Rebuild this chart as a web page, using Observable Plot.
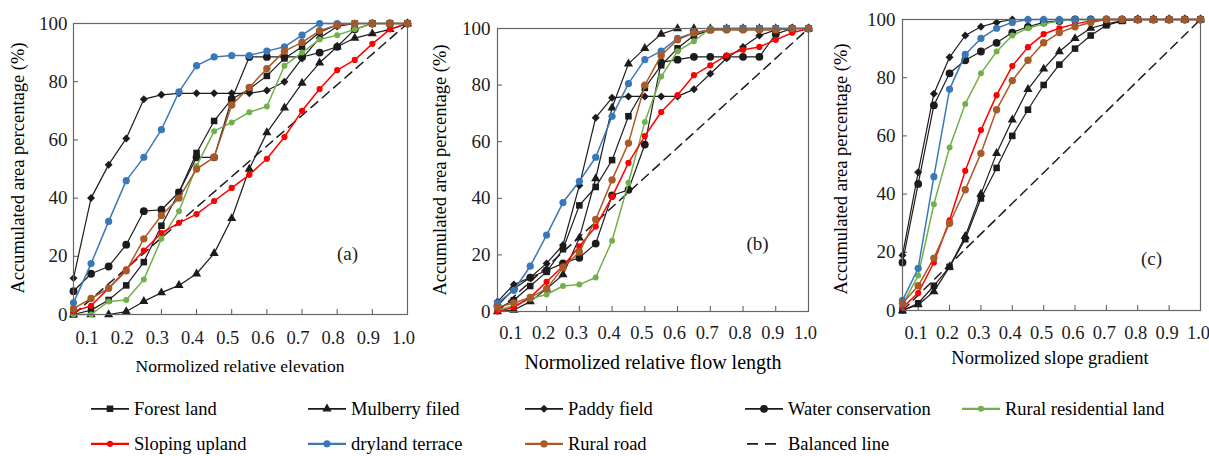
<!DOCTYPE html>
<html>
<head>
<meta charset="utf-8">
<script src="https://cdn.jsdelivr.net/npm/d3@7"></script>
<script src="https://cdn.jsdelivr.net/npm/@observablehq/plot@0.6"></script>
<style>
html,body{margin:0;padding:0;background:#fff;}
#wrap{position:relative;width:1209px;height:456px;overflow:hidden;font-family:"Liberation Serif","Times New Roman",serif;color:#000;}
.panel{position:absolute;top:0;}
.panel svg{overflow:visible;font-family:"Liberation Serif","Times New Roman",serif !important;}
.panel svg text{font-family:"Liberation Serif","Times New Roman",serif;}
.xt{position:absolute;white-space:nowrap;transform:translate(-50%,-50%);line-height:1;}
.yt{position:absolute;white-space:nowrap;transform:translate(-50%,-50%) rotate(-90deg);line-height:1;}
.leg{position:absolute;display:flex;align-items:center;white-space:nowrap;font-size:18.5px;line-height:1.1;transform:translateY(-50%);}
.leg svg{margin-right:3px;}
</style>
</head>
<body>
<div id="wrap"></div>
<script>
// ---------- data ----------
const xValues = [0.05,0.10,0.15,0.20,0.25,0.30,0.35,0.40,0.45,0.50,0.55,0.60,0.65,0.70,0.75,0.80,0.85,0.90,0.95,1.00];
const xTicks = [0.1,0.2,0.3,0.4,0.5,0.6,0.7,0.8,0.9,1.0];
const yTicks = [0,20,40,60,80,100];
const seriesNames = ["Forest land","Mulberry filed","Paddy field","Water conservation","Rural residential land","Sloping upland","dryland terrace","Rural road"];
const balancedName = "Balanced line";
const balancedX = [0.05, 1.0];
const balancedY = [0, 100];
const panelTags = ["(a)","(b)","(c)"];
const xTitles = ["Normolized relative elevation","Normolized relative flow length","Normolized slope gradient"];
const yTitle = "Accumulated area percentage (%)";

// (a) relative elevation
const elevForest      = [0,1.5,5,10,18,30.5,42,55.5,66.5,74,77.5,82,88,92,97,99.5,100,100,100,100];
const elevMulberry    = [0,0,0,1,4.5,7.5,10,14,21,33,50,62.5,71,79.5,86.5,92,95,96.5,98,100];
const elevPaddy       = [12.5,40,51.5,60.5,74,75.5,76,76,76,76,76,77,80,88,95,99,100,100,100,100];
const elevWater       = [8,14,16.5,24,35.5,36,42,54,54,74,88.5,88.5,88.5,88.5,90,92,98,100,100,100];
const elevResidential = [0,0,4.5,5,12,26,35.5,51,63,66,69.5,71.5,85.5,90,94.5,96,98,100,100,100];
const elevSloping     = [1,3,9,15.5,22,28,31.5,34.5,39,43.5,48,53.5,61,70,77.5,84,87.5,93,98,100];
const elevDryland     = [4,17.5,32,46,54,63.5,76.5,85.5,88.5,89,89,90.5,92,96,100,100,100,100,100,100];
const elevRoad        = [2,5.5,9,15,26,34,40,50,54,72,78,84.5,90.5,93.5,97.5,99.5,100,100,100,100];

// (b) relative flow length
const flowForest      = [1,4,9,14,22,37.5,44,53.5,69,79,87,93,97.5,99.5,100,100,100,100,100,100];
const flowMulberry    = [0,0.5,3.5,8,13,26,47,72,87.5,93,98,100,100,100,100,100,100,100,100,100];
const flowPaddy       = [3.5,9.5,12,17,23.5,44.5,68.5,75.5,76,76,76,76,78.5,84,89.5,93.5,97.5,99.5,100,100];
const flowWater       = [2,8,12,14.5,17,19,24,41,43,59,88,89,90,90,90,90,90,98,100,100];
const flowResidential = [0.5,2,4.5,6,9,9.5,12,25,45.5,67,83,92,95.5,100,100,100,100,100,100,100];
const flowSloping     = [0,1.5,5,10.5,16,23,30,40.5,52.5,62,70.5,76.5,83.5,87,90.5,92.5,93.5,96,98.5,100];
const flowDryland     = [3,7.5,16,27,38.5,46,54.5,69,80.5,89,92,96.5,98.5,99.5,100,100,100,100,100,100];
const flowRoad        = [1.5,3,5,8,15.5,21,32.5,46.5,59.5,80,90.5,96,98.5,99.5,99.5,99.5,99.5,99.5,100,100];

// (c) slope gradient
const slopeForest      = [0,2.5,8.5,15,24.5,38.5,49,60,69,77.5,84.5,90,94.5,98,99.5,100,100,100,100,100];
const slopeMulberry    = [0,2,6.5,15,25.5,40,54,65.5,76,83,89,93.5,97,98.5,99.5,100,100,100,100,100];
const slopePaddy       = [19,47.5,74.5,87,94.5,97.5,99,100,100,100,100,100,100,100,100,100,100,100,100,100];
const slopeWater       = [16.5,43.5,70.5,81.5,86,89,92,95.5,97.5,99,99.5,100,100,100,100,100,100,100,100,100];
const slopeResidential = [2,12,36.5,56,71,81.5,89,94.5,97,98.5,99.5,100,100,100,100,100,100,100,100,100];
const slopeSloping     = [1,6,16.5,31,48,62,74,84,90.5,95,97,98.5,99.5,100,100,100,100,100,100,100];
const slopeDryland     = [3.5,14.5,46,76,88,93.5,97,99,100,100,100,100,100,100,100,100,100,100,100,100];
const slopeRoad        = [2.5,8.5,18,30,41.5,54,69,79,86,92,95.5,97.5,99,100,100,100,100,100,100,100];

// ---------- styles ----------
const seriesColors  = ["#1c1c1c","#1c1c1c","#1c1c1c","#1c1c1c","#72b04c","#ff0000","#3b78b8","#a85a28"];
const seriesSymbols = ["square","triangle","diamond2","circle","circle","circle","circle","circle"];
const seriesRadius  = [3.7,3.4,3.6,3.9,3.0,3.1,3.6,3.7];
const seriesWidth   = [1.2,1.2,1.2,1.2,1.5,1.5,1.5,1.5];

const panels = [
  {series:[elevForest,elevMulberry,elevPaddy,elevWater,elevResidential,elevSloping,elevDryland,elevRoad],
   left:0, width:412, height:380, mL:73, mR:5, mT:23, mB:66, xPad:16, yPad:6, tickDx:-4,
   xTitle:{x:240,y:367,fs:17.5}, yTitle:{x:18,y:168,fs:18.5}, tag:{dx:-60,dy:-61}},
  {series:[flowForest,flowMulberry,flowPaddy,flowWater,flowResidential,flowSloping,flowDryland,flowRoad],
   left:415, width:396, height:380, mL:82, mR:3, mT:28, mB:69, xPad:14, yPad:7, tickDx:-3,
   xTitle:{x:653,y:362,fs:20}, yTitle:{x:440,y:170,fs:18.5}, tag:{dx:-51,dy:-68}},
  {series:[slopeForest,slopeMulberry,slopePaddy,slopeWater,slopeResidential,slopeSloping,slopeDryland,slopeRoad],
   left:815, width:394, height:380, mL:87, mR:9, mT:19, mB:70, xPad:15, yPad:7, tickDx:-2,
   xTitle:{x:1050,y:358,fs:18.5}, yTitle:{x:841,y:169,fs:18.5}, tag:{dx:-49,dy:-52}}
];

const wrap = document.getElementById("wrap");
const FONT = '"Liberation Serif", "Times New Roman", serif';

panels.forEach((p, k) => {
  const frameW = p.width - p.mL - p.mR;
  const frameH = p.height - p.mT - p.mB;
  const marks = [
    Plot.gridY(yTicks, {stroke:"#555", strokeOpacity:1, insetRight: frameW - 5}),
    Plot.gridX(xTicks, {stroke:"#555", strokeOpacity:1, insetTop: frameH - 5}),
    Plot.axisY(yTicks, {tickSize:0, tickPadding:p.yPad, label:null, fontSize:19}),
    Plot.axisX(xTicks, {tickSize:0, tickPadding:p.xPad, label:null, tickFormat:d3.format(".1f"), dx:p.tickDx, fontSize:18.5}),
    Plot.line(balancedX.map((x,j)=>({x, y:balancedY[j]})), {x:"x", y:"y", stroke:"#1c1c1c", strokeWidth:1.5, strokeDasharray:"9,6"})
  ];
  seriesNames.forEach((name, i) => {
    const pts = xValues.map((x, j) => ({x, y: p.series[i][j], name}));
    marks.push(Plot.line(pts, {x:"x", y:"y", stroke:seriesColors[i], strokeWidth:seriesWidth[i]}));
    marks.push(Plot.dot(pts, {x:"x", y:"y", symbol:seriesSymbols[i], fill:seriesColors[i], r:seriesRadius[i], stroke:"none"}));
  });
  marks.push(Plot.text([panelTags[k]], {text:d=>d, frameAnchor:"bottom-right", dx:p.tag.dx, dy:p.tag.dy, fontSize:19, textAnchor:"middle", lineAnchor:"middle", fill:"#1c1c1c"}));
  marks.push(Plot.frame({stroke:"#666", strokeWidth:1.2}));

  const svg = Plot.plot({
    width:p.width, height:p.height,
    marginLeft:p.mL, marginRight:p.mR, marginTop:p.mT, marginBottom:p.mB,
    x:{domain:[0.05,1.0]}, y:{domain:[0,100]},
    style:`font-family: ${FONT}; font-size: 18px; color: #1c1c1c; background: transparent; overflow: visible;`,
    marks
  });
  const holder = document.createElement("div");
  holder.className = "panel";
  holder.style.left = p.left + "px";
  holder.appendChild(svg);
  wrap.appendChild(holder);

  const xt = document.createElement("div");
  xt.className = "xt"; xt.textContent = xTitles[k];
  xt.style.left = p.xTitle.x + "px"; xt.style.top = p.xTitle.y + "px"; xt.style.fontSize = p.xTitle.fs + "px";
  wrap.appendChild(xt);
  const yt = document.createElement("div");
  yt.className = "yt"; yt.textContent = yTitle;
  yt.style.left = p.yTitle.x + "px"; yt.style.top = p.yTitle.y + "px"; yt.style.fontSize = p.yTitle.fs + "px";
  wrap.appendChild(yt);
});

// ---------- legend ----------
const legendCols = [91, 308, 525, 745, 962];
const legendRows = [409, 444];
const legendOrder = [0,1,2,3,4,5,6,7,-1];
const symbolTypes = {square:d3.symbolSquare, triangle:d3.symbolTriangle, diamond2:d3.symbolDiamond2, circle:d3.symbolCircle};
legendOrder.forEach((si, n) => {
  const row = n < 5 ? 0 : 1;
  const col = n < 5 ? n : n - 5;
  const item = document.createElement("div");
  item.className = "leg";
  item.style.left = legendCols[col] + "px";
  item.style.top = legendRows[row] + "px";
  let sw;
  if (si < 0) {
    sw = `<svg width="40" height="12"><line x1="2" y1="6" x2="32" y2="6" stroke="#1c1c1c" stroke-width="1.8" stroke-dasharray="11,7"/></svg>`;
  } else {
    const r = seriesRadius[si];
    const path = d3.symbol().type(symbolTypes[seriesSymbols[si]]).size(Math.PI * r * r)();
    sw = `<svg width="40" height="12"><line x1="0" y1="6" x2="38" y2="6" stroke="${seriesColors[si]}" stroke-width="${seriesWidth[si]+0.6}"/><path d="${path}" transform="translate(19,6)" fill="${seriesColors[si]}"/></svg>`;
  }
  item.innerHTML = sw + `<span>${si < 0 ? balancedName : seriesNames[si]}</span>`;
  wrap.appendChild(item);
});
</script>
</body>
</html>
